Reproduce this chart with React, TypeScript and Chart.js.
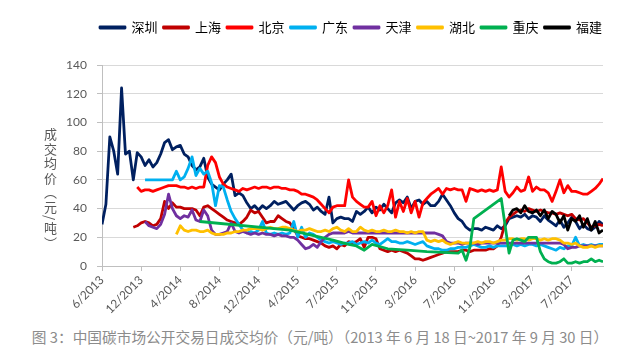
import React, { useEffect, useRef } from "react";
import { Chart, registerables } from "chart.js";

Chart.register(...registerables);

// X axis: trading-day index, one tick label every 10 samples
const xTickLabels = ["6/2013", "12/2013", "4/2014", "8/2014", "12/2014", "4/2015", "7/2015", "11/2015", "3/2016", "7/2016", "11/2016", "3/2017", "7/2017"];
const lastIndex = 128;

const seriesNames = ["深圳", "上海", "北京", "广东", "天津", "湖北", "重庆", "福建"];
const seriesColors = ["#002060", "#C00000", "#FF0000", "#00B0F0", "#7030A0", "#FFC000", "#00B050", "#000000"];

// 深圳 (starts at index 0)
const shenzhenStart = 0;
const shenzhen = [
  29, 43, 90, 80, 64, 124, 78, 80, 60, 79,
  76, 70, 74, 69, 72, 78, 86, 88, 81, 83,
  84, 78, 76, 70, 67, 69, 75, 62, 57, 55,
  53, 57, 60, 64, 49, 51, 49, 44, 40, 42,
  39, 42, 40, 42, 45, 43, 44, 45, 42, 39,
  42, 44, 45, 43, 39, 41, 38, 36, 48, 30,
  33, 34, 33, 33, 31, 38, 36, 38, 41, 37,
  41, 39, 43, 40, 37, 44, 46, 44, 48, 40,
  45, 46, 43, 45, 42, 42, 45, 50, 46, 42,
  37, 33, 31, 27, 25, 26, 26, 25, 27, 26,
  25, 28, 26, 28, 33, 34, 35, 34, 36, 33,
  35, 34, 31, 35, 32, 30, 28, 32, 27, 30,
  34, 31, 26, 29, 26, 25, 27, 31, 29,
];

// 上海 (starts at index 8)
const shanghaiStart = 8;
const shanghai = [
  27, 28,
  30, 31, 30, 28, 29, 33, 45, 40, 44, 41,
  41, 40, 40, 40, 39, 35, 41, 42, 40, 38,
  36, 34, 32, 31, 30, 29, 31, 34, 39, 37,
  38, 34, 30, 31, 31, 35, 33, 31, 30, 26,
  21, 20, 19, 19, 18, 17, 16, 14, 13, 14,
  12, 15, 14, 17, 16, 17, 19, 13, 20, 20,
  19, 12, 11, 10, 11, 10, 11, 10, 9, 7,
  5, 5, 4, 5, 6, 7, 8, 9, 10, 10,
  10, 10, 11, 11, 10, 11, 11, 11, 11, 12,
  12, 14, 20, 30, 34, 36, 38, 39, 38, 40,
  39, 38, 39, 38, 37, 37, 36, 37, 36, 35,
  36, 33, 32, 33, 30, 27, 28, 29, 28,
];

// 北京 (starts at index 9)
const beijingStart = 9;
const beijing = [
  55,
  52, 53, 53, 52, 53, 54, 55, 56, 56, 56,
  55, 55, 54, 55, 54, 55, 55, 70, 76, 72,
  62, 57, 55, 54, 53, 52, 54, 53, 54, 55,
  54, 55, 55, 54, 55, 55, 54, 54, 53, 53,
  52, 50, 50, 49, 48, 46, 43, 40, 37, 41,
  42, 42, 42, 60, 48, 45, 43, 41, 41, 45,
  35, 42, 37, 42, 53, 34, 45, 38, 47, 37,
  45, 34, 44, 47, 50, 52, 54, 50, 54, 53,
  54, 53, 53, 45, 54, 53, 52, 53, 52, 53,
  52, 53, 69, 52, 48, 51, 55, 52, 53, 62,
  52, 55, 53, 53, 51, 45, 52, 60, 51, 56,
  52, 52, 51, 50, 50, 52, 54, 57, 61,
];

// 广东 (starts at index 11)
const guangdongStart = 11;
const guangdong = [
  60, 60, 60, 60, 60, 60, 60, 60, 66,
  60, 62, 68, 76, 63, 68, 64, 66, 58, 42,
  56, 55, 46, 38, 33, 29, 25, 23, 24, 23,
  25, 31, 23, 22, 23, 22, 23, 22, 23, 31,
  20, 27, 20, 23, 22, 20, 18, 17, 16, 17,
  16, 15, 16, 16, 17, 15, 16, 17, 16, 18,
  16, 15, 17, 19, 17, 17, 16, 16, 17, 16,
  15, 16, 17, 14, 13, 12, 12, 11, 11, 12,
  12, 13, 13, 13, 14, 15, 14, 13, 13, 14,
  13, 14, 14, 14, 14, 15, 14, 15, 14, 15,
  15, 14, 15, 14, 13, 12, 11, 13, 12, 14,
  14, 20, 14, 15, 14, 15, 14, 15, 15,
];

// 天津 (starts at index 11)
const tianjinStart = 11;
const tianjin = [
  31, 28, 27, 26, 29, 36, 50, 40, 35,
  33, 35, 34, 39, 32, 31, 39, 35, 25, 22,
  22, 23, 24, 30, 24, 23, 24, 23, 22, 23,
  22, 23, 22, 22, 21, 22, 21, 21, 20, 20,
  18, 15, 12, 13, 15, 13, 17, 20, 22, 23,
  23, 23, 23, 24, 23, 23, 23, 23, 23, 23,
  23, 23, 23, 23, 23, 23, 23, 23, 23, 23,
  23, 23, 23, 23, 23, 23, 22, 21, 17, 16,
  16, 16, 15, 16, 16, 16, 15, 16, 16, 16,
  16, 16, 16, 16, 16, 16, 16, 16, 16, 16,
  16, 16, 16, 16, 16, 16, 16, 16, 15, 12,
  13, 13, 14, 14, 14, 14, 14, 14, 14,
];

// 湖北 (starts at index 19)
const hubeiStart = 19;
const hubei = [
  22,
  28, 25, 24, 25, 25, 24, 24, 25, 23, 22,
  22, 22, 23, 23, 24, 24, 25, 25, 26, 26,
  26, 25, 26, 27, 26, 26, 27, 27, 26, 25,
  24, 25, 25, 26, 25, 24, 24, 25, 24, 26,
  27, 25, 24, 26, 24, 24, 27, 25, 24, 25,
  24, 24, 25, 24, 24, 25, 24, 24, 23, 24,
  23, 24, 24, 18, 17, 18, 17, 18, 16, 15,
  16, 17, 16, 16, 16, 16, 17, 16, 17, 17,
  16, 17, 18, 18, 19, 19, 18, 19, 19, 18,
  19, 19, 18, 19, 18, 19, 19, 18, 16, 16,
  15, 16, 14, 13, 13, 14, 13, 14, 14,
];

// 重庆: sparse trading, [index, price]
const chongqingPoints = [
  [25, 31], [48, 25], [59, 18], [63, 15], [65, 14], [67, 11], [69, 15], [73, 12],
  [78, 11], [83, 10], [91, 9], [92, 11], [93, 4], [94, 13], [95, 33], [102, 47],
  [103, 28], [104, 9], [105, 18], [106, 19], [107, 18], [108, 17], [109, 20], [110, 20],
  [111, 20], [112, 10], [113, 5], [114, 3], [115, 2], [116, 2], [117, 3], [118, 5],
  [119, 2], [120, 2], [121, 3], [122, 2], [123, 3], [124, 3], [125, 5], [126, 3],
  [127, 4], [128, 3],
];

// 福建 (starts at index 104)
const fujianStart = 104;
const fujian = [
  35, 39, 40, 37, 42, 38, 37, 39, 35, 39, 33, 38, 36, 30, 35, 25, 33, 31, 35, 27,
  33, 25, 31, 23, 25,
];

const yTicks = { min: 0, max: 140, step: 20 };

function fromStart(start: number, values: number[]) {
  return values.map((v, k) => ({ x: start + k, y: v }));
}

export default function App() {
  const ref = useRef<HTMLCanvasElement | null>(null);

  useEffect(() => {
    const canvas = ref.current;
    if (!canvas) return;
    const seriesData = [
      fromStart(shenzhenStart, shenzhen),
      fromStart(shanghaiStart, shanghai),
      fromStart(beijingStart, beijing),
      fromStart(guangdongStart, guangdong),
      fromStart(tianjinStart, tianjin),
      fromStart(hubeiStart, hubei),
      chongqingPoints.map(([x, y]) => ({ x, y })),
      fromStart(fujianStart, fujian),
    ];
    const datasets = seriesNames.map((name, i) => ({
      label: name,
      data: seriesData[i],
      borderColor: seriesColors[i],
      backgroundColor: seriesColors[i],
      borderWidth: 2.8,
      pointRadius: 0,
      pointHoverRadius: 0,
      fill: false,
      tension: 0,
      spanGaps: true,
      borderJoinStyle: "round" as const,
      order: seriesNames.length - 1 - i,
    }));

    const tickFont = { family: "Lato, 'Liberation Sans', sans-serif", size: 12 };
    const chart = new Chart(canvas, {
      type: "line",
      data: { datasets },
      options: {
        animation: false,
        responsive: false,
        devicePixelRatio: 1,
        events: [],
        layout: { padding: { left: 62, right: 0, top: 15, bottom: 0 } },
        plugins: {
          legend: {
            position: "top",
            align: "center",
            labels: {
              boxWidth: 25,
              boxHeight: 1,
              padding: 6,
              color: "#000000",
              font: { family: "'Noto Sans CJK SC', sans-serif", size: 13 },
              sort: (a: any, b: any) => a.datasetIndex - b.datasetIndex,
            },
          },
          tooltip: { enabled: false },
        },
        scales: {
          x: {
            type: "linear",
            min: 0,
            max: lastIndex,
            afterBuildTicks: (scale: any) => {
              scale.ticks = xTickLabels.map((_, k) => ({ value: k * 10 }));
            },
            afterFit: (scale: any) => {
              scale.height = 54;
            },
            ticks: {
              autoSkip: false,
              maxRotation: 45,
              minRotation: 45,
              padding: 2,
              color: "#595959",
              font: tickFont,
              callback: (value: any) => xTickLabels[Math.round(Number(value) / 10)] ?? "",
            },
            grid: { drawOnChartArea: false, drawTicks: true, tickLength: 5, tickColor: "#BFBFBF" },
            border: { color: "#BFBFBF", width: 1 },
          },
          y: {
            type: "linear",
            min: yTicks.min,
            max: yTicks.max,
            afterFit: (scale: any) => {
              scale.width = 40;
            },
            ticks: { stepSize: yTicks.step, padding: 10, color: "#595959", font: tickFont },
            grid: { color: "#D9D9D9", tickLength: 5, tickColor: "#BFBFBF" },
            border: { color: "#BFBFBF", width: 1 },
          },
          yPad: {
            type: "linear",
            position: "right",
            display: true,
            grid: { display: false },
            ticks: { display: false },
            border: { display: false },
            afterFit: (scale: any) => {
              scale.width = 37;
            },
          },
          xPad: {
            type: "linear",
            position: "top",
            display: true,
            grid: { display: false },
            ticks: { display: false },
            border: { display: false },
            afterFit: (scale: any) => {
              scale.height = 21;
            },
          },
        },
      } as any,
    });
    return () => chart.destroy();
  }, []);

  return (
    <div style={{ position: "fixed", left: 0, top: 0, width: 640, height: 357, background: "#ffffff", overflow: "hidden" }}>
      <canvas ref={ref} width={640} height={320} style={{ position: "absolute", left: 0, top: 0, width: 640, height: 320 }} />
      <div
        style={{
          position: "absolute",
          left: 43,
          top: 128,
          writingMode: "vertical-rl",
          fontFamily: "'Noto Sans CJK SC', sans-serif",
          fontSize: 13,
          lineHeight: "14px",
          letterSpacing: 1.5,
          color: "#595959",
        }}
      >
        成交均价（元/吨）
      </div>
      <div
        style={{
          position: "absolute",
          left: 0,
          top: 327,
          width: 640,
          textAlign: "center",
          fontFamily: "'Noto Sans CJK SC', sans-serif",
          fontSize: 14.7,
          lineHeight: "19px",
          color: "#8C8C8C",
          whiteSpace: "nowrap",
        }}
      >
        图 3：中国碳市场公开交易日成交均价（元/吨）（2013 年 6 月 18 日~2017 年 9 月 30 日）
      </div>
    </div>
  );
}
